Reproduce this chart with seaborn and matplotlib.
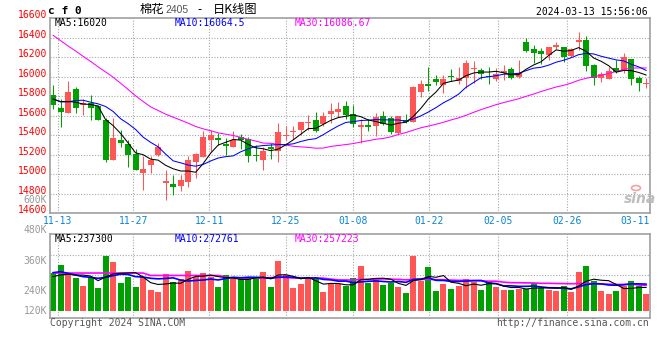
import numpy as np
import pandas as pd
import matplotlib
matplotlib.use('Agg')
import matplotlib.pyplot as plt
import matplotlib.transforms as mtransforms
from matplotlib.patches import Circle
import seaborn as sns

# Daily K data for cotton 2405
opens = [15813, 15683, 15625, 15874, 15711, 15728, 15694, 15557, 15148, 15353,
         15312, 15209, 15008, 15090, 15192, 14906, 14903, 14875, 14916, 15124,
         15175, 15346, 15370, 15312, 15284, 15380, 15359, 15192, 15141, 15278,
         15243, 15387, 15434, 15448, 15523, 15557, 15513, 15615, 15642, 15700,
         15619, 15479, 15506, 15489, 15598, 15574, 15421, 15557, 15530, 15840,
         15925, 15973, 15915, 16007, 15956, 15990, 16076, 16069, 16007, 15977,
         16035, 16079, 15994, 16352, 16284, 16267, 16222, 16308, 16301, 16215,
         16359, 16376, 16120, 15990, 15977, 16093, 16062, 16181, 15990, 15922]
highs = [15915, 15769, 15956, 15891, 15769, 15816, 15711, 15574, 15574, 15455,
         15353, 15257, 15182, 15189, 15325, 15046, 14995, 14995, 15182, 15216,
         15438, 15455, 15420, 15370, 15438, 15414, 15380, 15301, 15278, 15318,
         15523, 15489, 15489, 15540, 15608, 15642, 15642, 15728, 15735, 15745,
         15711, 15567, 15564, 15632, 15649, 15598, 15598, 15619, 15905, 15960,
         16096, 16018, 16018, 16076, 16103, 16171, 16161, 16093, 16096, 16086,
         16120, 16096, 16171, 16400, 16325, 16290, 16301, 16352, 16308, 16290,
         16454, 16417, 16130, 16052, 16103, 16171, 16239, 16181, 16001, 15984]
lows = [15670, 15479, 15625, 15632, 15608, 15557, 15557, 15121, 15148, 15278,
        15070, 15039, 14834, 15012, 15189, 14732, 14790, 14831, 14868, 14960,
        15172, 15233, 15300, 15192, 15284, 15257, 15121, 15131, 15046, 15155,
        15121, 15353, 15359, 15404, 15455, 15428, 15489, 15523, 15591, 15564,
        15479, 15318, 15445, 15387, 15506, 15414, 15414, 15523, 15530, 15796,
        15857, 15915, 15830, 15950, 15926, 15881, 15932, 15977, 15922, 15950,
        15967, 15977, 15990, 16256, 16137, 16127, 16171, 16284, 16154, 16205,
        16273, 16062, 15915, 15943, 15977, 16035, 16035, 15915, 15857, 15881]
closes = [15704, 15636, 15844, 15683, 15728, 15683, 15557, 15148, 15376, 15325,
          15199, 15046, 15056, 15148, 15274, 14933, 14868, 14943, 15148, 15209,
          15380, 15404, 15353, 15291, 15353, 15346, 15182, 15182, 15240, 15257,
          15428, 15397, 15441, 15530, 15540, 15445, 15598, 15649, 15670, 15608,
          15513, 15506, 15479, 15591, 15516, 15428, 15598, 15530, 15898, 15925,
          15908, 15949, 15977, 15994, 15990, 16137, 16086, 16025, 15994, 16028,
          16062, 15984, 16035, 16267, 16246, 16229, 16301, 16325, 16198, 16284,
          16376, 16110, 15984, 16028, 16059, 16045, 16198, 15977, 15932, 15926]
volumes = [388000, 474000, 388000, 343000, 258000, 337000, 237000, 570000, 508000, 292000,
           354000, 251000, 347000, 216000, 199000, 381000, 299000, 333000, 415000, 354000,
           395000, 354000, 251000, 371000, 326000, 326000, 354000, 326000, 405000, 251000,
           518000, 371000, 240000, 278000, 326000, 343000, 199000, 275000, 275000, 258000,
           343000, 467000, 292000, 319000, 268000, 292000, 251000, 189000, 570000, 312000,
           457000, 209000, 278000, 227000, 258000, 330000, 295000, 216000, 309000, 251000,
           216000, 216000, 223000, 227000, 292000, 233000, 216000, 206000, 261000, 199000,
           405000, 464000, 309000, 209000, 175000, 209000, 258000, 309000, 261000, 175000]

# moving averages before the window has enough days
ma5_head = [15769, 15745, 15745, 15738]
ma10_head = [15772, 15741, 15741, 15755, 15758, 15738, 15721, 15694, 15643]
ma30_head = [16423, 16369, 16314, 16263, 16208, 16156, 16100, 16048, 15994, 15932,
             15868, 15803, 15745, 15690, 15653, 15615, 15584, 15554, 15523, 15489,
             15465, 15445, 15424, 15410, 15397, 15378, 15357, 15340, 15319]
vol_ma5_head = [354000, 371000, 378000, 371000]
vol_ma10_head = [395000, 405000, 388000, 371000, 354000, 347000, 337000, 347000, 364000]
vol_ma30_head = [391000, 391000, 391000, 391000, 391000, 391000, 391000, 391000, 391000, 391000,
                 391000, 391000, 391000, 366000, 366000, 366000, 366000, 366000, 366000, 366000,
                 366000, 366000, 366000, 350000, 340000, 340000, 340000, 340000, 340000]

date_labels = ['11-13', '11-27', '12-11', '12-25', '01-08', '01-22', '02-05', '02-26', '03-11']
price_ticks = [16600, 16400, 16200, 16000, 15800, 15600, 15400, 15200, 15000, 14800, 14600]
vol_labels = ['600K', '480K', '360K', '240K', '120K']

RED = '#ff5555'
GREEN = '#00a000'
GRID = '#a8a8a8'
FRAME = '#a0a0a0'
DATEC = '#0a84d6'


def moving(s, n, head):
    m = s.rolling(n).mean()
    m.iloc[:len(head)] = head
    return m


df = pd.DataFrame({'open': opens, 'high': highs, 'low': lows,
                   'close': closes, 'vol': volumes})
df['idx'] = np.arange(len(df))
df['dir'] = np.where(df['close'] >= df['open'], 'up', 'down')
df['ma5'] = moving(df['close'], 5, ma5_head)
df['ma10'] = moving(df['close'], 10, ma10_head)
df['ma30'] = moving(df['close'], 30, ma30_head)
df['vma5'] = moving(df['vol'], 5, vol_ma5_head)
df['vma10'] = moving(df['vol'], 10, vol_ma10_head)
df['vma30'] = moving(df['vol'], 30, vol_ma30_head)

sns.set_theme(style='white')
plt.rcParams['font.family'] = ['DejaVu Sans Mono', 'Noto Sans CJK SC']

W, H = 660, 360
fig = plt.figure(figsize=(6.6, 3.6), dpi=100)


def box(x0, y0, x1, y1):
    return [x0 / W, 1 - y1 / H, (x1 - x0) / W, (y1 - y0) / H]


ax = fig.add_axes(box(50, 18, 650, 213.3))
axv = fig.add_axes(box(50, 234.3, 650, 318.3))

# grid x positions (between candles, as drawn on the original)
grid_x = [0.6, 10.7, 20.8, 31.0, 40.0, 50.1, 59.3, 68.4]
dot = (0, (1, 1.5))

# ---- price panel
colors = [RED if d == 'up' else GREEN for d in df['dir']]
ax.vlines(df['idx'], df['low'], df['high'], colors=colors, lw=0.75, zorder=2)
body_lo = np.minimum(df['open'], df['close'])
body_h = np.maximum(np.abs(df['close'] - df['open']), 9)
ax.bar(df['idx'], body_h, bottom=body_lo, width=0.8, color=colors, linewidth=0, zorder=2)

sns.lineplot(data=df, x='idx', y='ma30', color='#ff00ff', lw=0.75, ax=ax, zorder=3)
sns.lineplot(data=df, x='idx', y='ma10', color='#0000ff', lw=0.75, ax=ax, zorder=3)
sns.lineplot(data=df, x='idx', y='ma5', color='black', lw=0.75, ax=ax, zorder=3)

ax.set_xlim(-0.4, 79.5)
ax.set_ylim(14600, 16600)
ax.set_xticks(grid_x)
ax.set_yticks(price_ticks[1:-1])
ax.set_xticklabels([])
ax.set_yticklabels([])
ax.tick_params(length=0)
ax.grid(True, color=GRID, lw=0.8, ls=dot)
ax.set_xlabel('')
ax.set_ylabel('')

trans = mtransforms.blended_transform_factory(ax.transAxes, ax.transData)
for p in price_ticks:
    ax.text(-0.005, p, str(p), transform=trans, ha='right', va='baseline',
            color='red', fontsize=7, clip_on=False)

ax.text(0.0083, 0.972, 'MA5:16020', transform=ax.transAxes, color='black',
        fontsize=7, va='center', ha='left')
ax.text(0.2083, 0.972, 'MA10:16064.5', transform=ax.transAxes, color='#0000ff',
        fontsize=7, va='center', ha='left')
ax.text(0.4083, 0.972, 'MA30:16086.67', transform=ax.transAxes, color='#ff00ff',
        fontsize=7, va='center', ha='left')

dtrans = mtransforms.blended_transform_factory(ax.transData, ax.transAxes)
for g, lab in zip(grid_x, date_labels[:-1]):
    ax.text(g, -0.0394, lab, transform=dtrans, ha='center', va='center',
            color=DATEC, fontsize=7, clip_on=False)
ax.text(1.0, -0.0394, date_labels[-1], transform=ax.transAxes, ha='right',
        va='center', color=DATEC, fontsize=7, clip_on=False)

# ---- volume panel
sns.barplot(data=df, x='idx', y='vol', hue='dir', palette={'up': RED, 'down': GREEN},
            native_scale=True, width=0.8, dodge=False, legend=False,
            saturation=1, errorbar=None, linewidth=0, ax=axv, zorder=2)
sns.lineplot(data=df, x='idx', y='vma30', color='#ff00ff', lw=1.2, ax=axv, zorder=3)
sns.lineplot(data=df, x='idx', y='vma10', color='#0000ff', lw=1.2, ax=axv, zorder=3)
sns.lineplot(data=df, x='idx', y='vma5', color='black', lw=0.8, ax=axv, zorder=3)

axv.set_xlim(-0.4, 79.5)
axv.set_ylim(-75000, 790000)
axv.set_xticks(grid_x)
axv.set_yticks([577000, 371000])
axv.set_xticklabels([])
axv.set_yticklabels([])
axv.tick_params(length=0)
axv.grid(True, color=GRID, lw=0.8, ls=dot)
axv.set_xlabel('')
axv.set_ylabel('')

axv.text(0.0083, 0.95, 'MA5:237300', transform=axv.transAxes, color='black',
         fontsize=7, va='center', ha='left', zorder=5)
axv.text(0.2083, 0.95, 'MA10:272761', transform=axv.transAxes, color='#0000ff',
         fontsize=7, va='center', ha='left', zorder=5)
axv.text(0.4083, 0.95, 'MA30:257223', transform=axv.transAxes, color='#ff00ff',
         fontsize=7, va='center', ha='left', zorder=5)

for a in (ax, axv):
    a.set_facecolor('white')
    for sp in a.spines.values():
        sp.set_visible(True)
        sp.set_color(FRAME)
        sp.set_linewidth(1.2)

# volume axis labels (placed where the original draws them)
for lab, ypx in zip(vol_labels, [199.7, 230, 261, 291, 311]):
    fig.text(47 / W, 1 - ypx / H, lab, ha='right', va='center', color='#999999', fontsize=7)

# ---- header / footer texts
fig.text(48 / W, 1 - 11 / H, 'c f 0', ha='left', va='center', fontsize=8,
         fontweight='bold', color='black')
cjk = ['Noto Sans CJK SC', 'DejaVu Sans']
fig.text(140 / W, 1 - 9.5 / H, '棉花', ha='left', va='center', fontsize=8.8,
         family=cjk, color='black')
fig.text(165 / W, 1 - 10 / H, '2405', ha='left', va='center', fontsize=7.5,
         family='Liberation Sans', color='#555555')
fig.text(200 / W, 1 - 10 / H, '-', ha='center', va='center', fontsize=8.5,
         family=cjk, color='black')
fig.text(213 / W, 1 - 9.5 / H, '日K线图', ha='left', va='center', fontsize=8.8,
         family=cjk, color='black')
fig.text(648 / W, 1 - 12 / H, '2024-03-13 15:56:06', ha='right', va='center',
         fontsize=7, color='black')
fig.text(50 / W, 1 - 323 / H, 'Copyright 2024 SINA.COM', ha='left', va='center',
         fontsize=7, color='#555555')
fig.text(649 / W, 1 - 323.5 / H, 'http://finance.sina.com.cn', ha='right', va='center',
         fontsize=7, color='#555555')

# sina watermark
fig.text(640 / W, 1 - 199 / H, 'sina', ha='center', va='center', fontsize=10,
         family='DejaVu Sans', style='italic', fontweight='bold', color='#bdbdbd')
fig.patches.append(Circle((636 / W, 1 - 188 / H), 4.5 / W, transform=fig.transFigure,
                          fill=False, ec='#f3a3a3', lw=1.2))

fig.savefig('out.png', dpi=100)
